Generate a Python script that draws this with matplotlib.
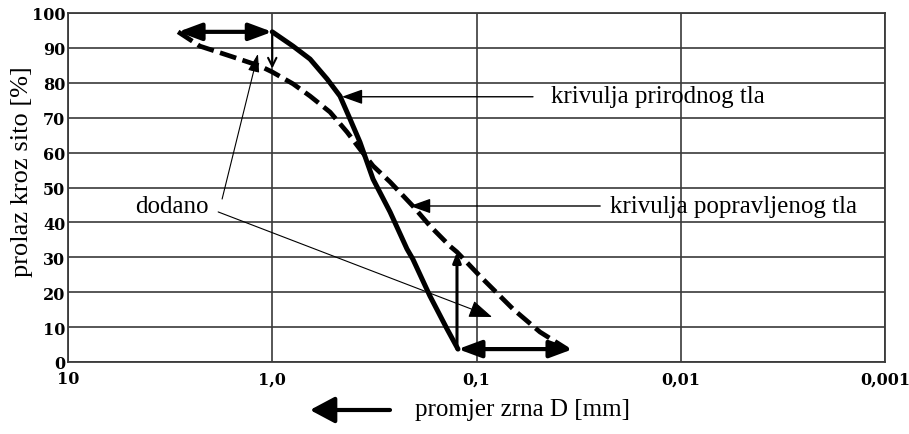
import numpy as np
import matplotlib
matplotlib.use("Agg")
import matplotlib.pyplot as plt

# ---- data ----
solid_d = [1.0, 0.791, 0.653, 0.539, 0.466, 0.416, 0.372, 0.321, 0.265, 0.219, 0.205, 0.169, 0.1395, 0.1232]
solid_p = [94.6, 90.5, 86.8, 81.1, 76.2, 69.6, 63.0, 52.4, 43.0, 32.4, 29.5, 18.9, 9.5, 3.7]

dashed_d = [2.89, 2.259, 1.557, 1.148, 1.0, 0.791, 0.653, 0.521, 0.4305, 0.372, 0.321, 0.265, 0.205,
            0.169, 0.1349, 0.1246, 0.0961, 0.0663, 0.0489, 0.036]
dashed_p = [94.6, 90.5, 87.4, 84.8, 83.1, 79.7, 76.2, 71.6, 65.9, 61.0, 56.2, 51.6, 44.7,
            39.0, 33.2, 31.5, 24.6, 15.2, 8.6, 3.7]

x_ticks = [10, 1.0, 0.1, 0.01, 0.001]
x_tick_labels = ["10", "1,0", "0,1", "0,01", "0,001"]
y_ticks = [0, 10, 20, 30, 40, 50, 60, 70, 80, 90, 100]

label_natural = "krivulja prirodnog tla"
label_corrected = "krivulja popravljenog tla"
label_added = "dodano"
xlabel = "promjer zrna D [mm]"
ylabel = "prolaz kroz sito [%]"

# ---- figure ----
W, H = 909, 435
fig = plt.figure(figsize=(W / 100, H / 100), dpi=100)
ax = fig.add_axes([68 / W, 1 - 363 / H, (885 - 68) / W, (363 - 14) / H])

serif = ["Liberation Serif", "DejaVu Serif"]
gc = "#3a3a3a"

ax.set_xscale("log")
ax.set_xlim(10, 0.001)
ax.set_ylim(0, 100)
ax.set_xticks(x_ticks)
ax.set_xticklabels(x_tick_labels)
ax.xaxis.set_minor_locator(matplotlib.ticker.NullLocator())
ax.set_yticks(y_ticks)
ax.set_yticklabels([str(v) for v in y_ticks])
for lab in ax.get_xticklabels() + ax.get_yticklabels():
    lab.set_fontfamily("DejaVu Serif")
    lab.set_fontweight("bold")
    lab.set_fontsize(11.5)
ax.tick_params(axis="both", length=0, pad=2)
ax.tick_params(axis="x", pad=6)
ax.grid(True, which="major", color=gc, lw=1.2)
for s in ax.spines.values():
    s.set_color(gc)
    s.set_linewidth(1.3)
ax.set_axisbelow(True)

# curves
ax.plot(solid_d, solid_p, color="black", lw=3.6, solid_capstyle="round",
        solid_joinstyle="round", zorder=3)
ax.plot(dashed_d, dashed_p, color="black", lw=3.4, linestyle=(0, (3.6, 1.4)),
        dash_joinstyle="round", zorder=3)

big = "<|-|>,head_length=0.7,head_width=0.26"
# top double arrow
ax.annotate("", xy=(dashed_d[0], dashed_p[0]), xytext=(solid_d[0], solid_p[0]),
            arrowprops=dict(arrowstyle=big, color="black",
                            lw=3, mutation_scale=20, shrinkA=0, shrinkB=0), zorder=4)
# thin vertical arrow at d=1.0
ax.annotate("", xy=(1.0, dashed_p[4] + 1), xytext=(1.0, 94.0),
            arrowprops=dict(arrowstyle="->,head_length=0.5,head_width=0.25", color="black",
                            lw=1.5, mutation_scale=12, shrinkA=0, shrinkB=0), zorder=4)

# bottom double arrow
ax.annotate("", xy=(0.0337, solid_p[-1]), xytext=(solid_d[-1], solid_p[-1]),
            arrowprops=dict(arrowstyle=big, color="black",
                            lw=3, mutation_scale=20, shrinkA=0, shrinkB=0), zorder=4)
# vertical line at bottom
ax.annotate("", xy=(0.1246, 31.5), xytext=(0.1246, solid_p[-1]),
            arrowprops=dict(arrowstyle="-|>,head_length=0.5,head_width=0.2", color="black",
                            lw=2.2, mutation_scale=12, shrinkA=0, shrinkB=0), zorder=4)

# labels with arrows
thin = "-|>,head_length=0.7,head_width=0.25"
ax.annotate("", xy=(0.456, 76.0), xytext=(0.0529, 76.0),
            arrowprops=dict(arrowstyle=thin, color="black",
                            lw=1.0, mutation_scale=18, shrinkA=0, shrinkB=0), zorder=4)
ax.text(0.0432, 76.2, label_natural, family=serif, fontsize=18, va="center", ha="left",
        zorder=5)

ax.annotate("", xy=(0.2117, 44.7), xytext=(0.0248, 44.7),
            arrowprops=dict(arrowstyle=thin, color="black",
                            lw=1.0, mutation_scale=18, shrinkA=0, shrinkB=0), zorder=4)
ax.text(0.0222, 44.7, label_corrected, family=serif, fontsize=18, va="center", ha="left",
        zorder=5)

ax.text(3.10, 44.7, label_added, family=serif, fontsize=18, va="center", ha="center", zorder=5)
ax.annotate("", xy=(1.175, 88.3), xytext=(1.76, 46.7),
            arrowprops=dict(arrowstyle="-|>,head_length=0.7,head_width=0.22", color="black",
                            lw=0.8, mutation_scale=16, shrinkA=0, shrinkB=0), zorder=4)
ax.annotate("", xy=(0.0839, 12.9), xytext=(1.84, 43.0),
            arrowprops=dict(arrowstyle="-|>,head_length=0.8,head_width=0.3", color="black",
                            lw=0.8, mutation_scale=18, shrinkA=0, shrinkB=0), zorder=4)

# axis labels
fig.text(22 / W, 1 - 172 / H, ylabel, family=serif, fontsize=19, rotation=90,
         va="center", ha="center")
fig.text(415 / W, 1 - 410 / H, xlabel, family=serif, fontsize=18, va="center", ha="left")
fig.patches.append(matplotlib.patches.FancyArrowPatch(
    (390 / W, 1 - 411 / H), (310 / W, 1 - 411 / H), transform=fig.transFigure,
    arrowstyle="-|>,head_length=0.75,head_width=0.4", mutation_scale=20, lw=3,
    color="black", shrinkA=0, shrinkB=0))

fig.savefig("out.png", dpi=100)
